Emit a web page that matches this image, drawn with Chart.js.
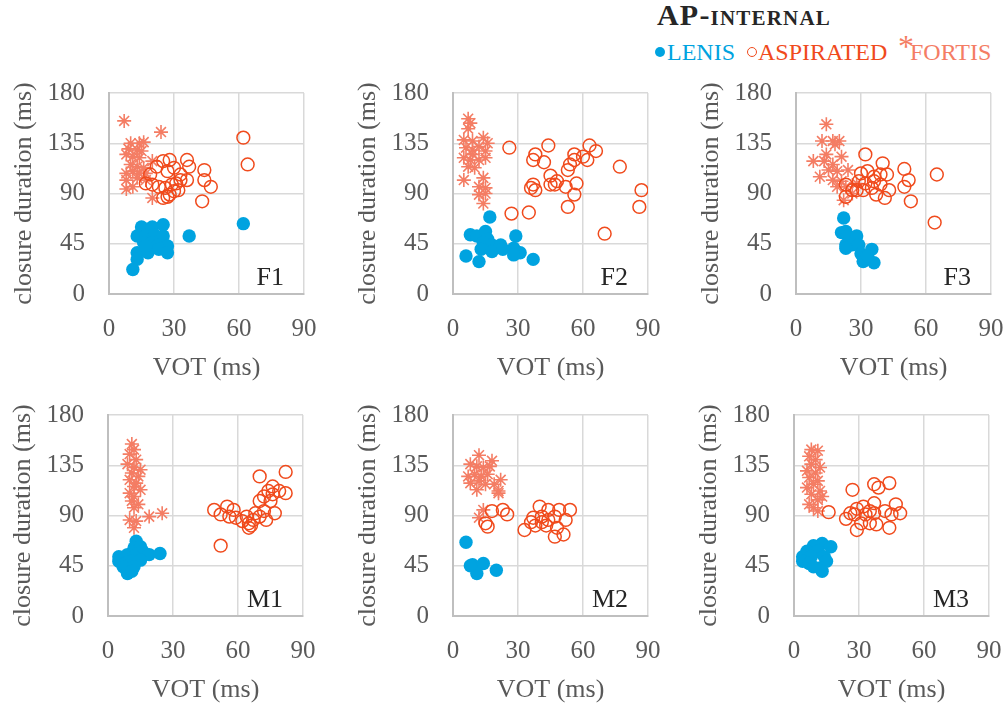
<!DOCTYPE html>
<html>
<head>
<meta charset="utf-8">
<title>AP-internal</title>
<script src="https://cdn.jsdelivr.net/npm/chart.js@4.4.1/dist/chart.umd.min.js"></script>
<style>
  html, body { margin: 0; padding: 0; background: #fff; }
  body { position: relative; width: 1006px; height: 704px; overflow: hidden;
         font-family: "Liberation Serif", "Times New Roman", serif; }
  canvas { position: absolute; }
  #title { position: absolute; left: 657px; top: -2px; font-size: 30px; line-height: 34px; letter-spacing: 1.2px;
           font-weight: bold; font-variant: small-caps; color: #262626; white-space: nowrap; }
  .lg { position: absolute; top: 37px; font-size: 24px; line-height: 30px; white-space: nowrap; }
  .dot { position: absolute; top: 47px; width: 10px; height: 10px; border-radius: 50%; box-sizing: border-box; }
</style>
</head>
<body>

<div id="title">AP-internal</div>
<span class="dot" style="left:655px;background:#00a3e0"></span>
<span class="lg" style="left:667px;color:#00a3e0">LENIS</span>
<span class="dot" style="left:747px;border:1.5px solid #f04a1c"></span>
<span class="lg" style="left:758px;color:#f04a1c">ASPIRATED</span>
<span class="lg" style="left:898px;top:31px;font-size:32px;color:#f47d64">*</span>
<span class="lg" style="left:910px;color:#f47d64">FORTIS</span>

<canvas id="cF1" width="310" height="304" style="left:9px;top:80px"></canvas>
<canvas id="cF2" width="310" height="304" style="left:353px;top:80px"></canvas>
<canvas id="cF3" width="310" height="304" style="left:696px;top:80px"></canvas>
<canvas id="cM1" width="310" height="304" style="left:8px;top:402px"></canvas>
<canvas id="cM2" width="310" height="304" style="left:353px;top:402px"></canvas>
<canvas id="cM3" width="310" height="304" style="left:694px;top:402px"></canvas>

<script>
// ── Data: [VOT ms, closure duration ms] ──
var xTicks = [0, 30, 60, 90];
var yTicks = [0, 45, 90, 135, 180];

var f1Lenis = [[62,63],[37,52],[15,60],[20,60],[25,62],[13,52],[17,52],[21,53],[25,52],[16,46],[20,46],[23,44],[27,43],[13,37],[18,37],[23,40],[27,37],[13,31],[11,22],[17,43]];
var f1Aspirated = [[62,140],[64,116],[36,120],[25,119],[28,120],[30,113],[37,114],[44,111],[44,102],[47,96],[43,83],[22,114],[27,110],[33,102],[36,102],[19,107],[20,98],[23,96],[26,95],[29,98],[31,99],[17,99],[27,87],[30,92],[32,93],[25,86],[28,89],[33,107]];
var f1Fortis = [[7,155],[24,145],[10,135],[14,135],[16,136],[9,130],[13,129],[15,128],[8,125],[11,123],[14,122],[20,119],[10,116],[13,114],[16,113],[8,108],[11,110],[14,108],[17,108],[8,102],[13,104],[17,102],[8,94],[20,86],[11,96]];

var f2Lenis = [[17,69],[8,53],[11,52],[15,56],[16,49],[29,52],[14,46],[18,44],[22,44],[13,40],[18,38],[23,40],[28,41],[31,37],[6,34],[12,29],[37,31],[28,35]];
var f2Aspirated = [[26,131],[44,133],[63,133],[66,128],[38,125],[37,120],[42,118],[56,125],[60,123],[62,120],[54,116],[53,111],[56,120],[77,114],[37,98],[38,93],[45,106],[45,98],[48,101],[47,98],[52,96],[57,99],[56,89],[53,78],[87,93],[86,78],[27,72],[35,73],[70,54],[36,95]];
var f2Fortis = [[7,157],[8,153],[7,148],[5,138],[9,137],[14,140],[16,135],[6,131],[9,129],[12,132],[15,128],[5,122],[8,120],[12,120],[15,122],[7,114],[10,113],[5,102],[14,104],[12,96],[15,95],[12,89],[15,90],[14,81],[9,125]];

var f3Lenis = [[22,68],[21,55],[23,56],[24,52],[28,52],[23,44],[26,44],[29,44],[23,41],[30,36],[35,40],[31,29],[36,28],[33,34]];
var f3Aspirated = [[32,125],[40,117],[50,112],[65,107],[52,102],[50,96],[53,83],[64,64],[30,108],[33,110],[36,105],[39,107],[42,107],[29,101],[32,99],[36,101],[39,98],[43,93],[23,98],[26,93],[31,93],[35,95],[37,89],[41,86],[23,87],[28,93]];
var f3Fortis = [[14,152],[12,137],[17,137],[20,137],[18,134],[14,125],[21,123],[8,119],[13,119],[17,116],[15,111],[11,105],[19,110],[24,111],[17,102],[21,101],[23,96],[19,96],[22,84],[26,90],[28,99]];

var m1Lenis = [[13,67],[12,61],[15,62],[16,58],[5,53],[9,55],[12,53],[19,55],[24,56],[5,49],[8,47],[11,49],[15,50],[7,44],[12,44],[9,38],[11,40]];
var m1Aspirated = [[82,129],[70,125],[76,116],[74,112],[79,112],[82,110],[72,107],[76,109],[70,103],[75,103],[49,95],[55,98],[58,95],[52,91],[56,89],[59,88],[64,89],[68,92],[72,94],[77,92],[73,86],[62,85],[65,83],[67,86],[65,79],[66,81],[70,89],[52,63]];
var m1Fortis = [[11,154],[12,149],[10,145],[13,140],[9,136],[12,133],[15,131],[11,128],[14,125],[10,122],[13,119],[12,116],[15,113],[10,110],[12,107],[11,103],[14,100],[12,97],[19,89],[25,92],[10,86],[13,85],[12,79]];

var m2Lenis = [[6,66],[9,46],[14,47],[11,38],[20,41],[8,45]];
var m2Aspirated = [[18,94],[23,95],[25,91],[15,83],[16,80],[33,77],[40,98],[44,95],[49,95],[54,95],[37,88],[41,89],[44,86],[47,89],[52,86],[38,81],[43,81],[48,79],[51,73],[47,71],[41,84],[36,84]];
var m2Fortis = [[12,144],[18,139],[22,122],[8,136],[11,134],[14,133],[17,134],[7,125],[10,127],[13,125],[16,127],[8,119],[12,121],[15,118],[19,118],[11,113],[21,110],[14,95],[12,88],[21,112]];

var m3Lenis = [[13,65],[17,62],[9,63],[6,58],[11,58],[4,53],[8,53],[14,53],[4,49],[7,47],[15,49],[12,43],[13,40],[9,44]];
var m3Aspirated = [[27,113],[16,93],[24,87],[37,118],[39,115],[44,119],[47,100],[49,92],[29,96],[32,98],[35,94],[28,91],[33,91],[37,92],[42,94],[45,91],[31,83],[35,83],[38,82],[29,77],[44,79],[37,101],[26,92]];
var m3Fortis = [[8,149],[11,148],[7,143],[10,140],[8,136],[12,133],[6,130],[10,128],[7,124],[11,121],[9,118],[6,115],[12,112],[8,109],[11,104],[7,100],[9,97],[11,94],[13,107]];

var Panels = (function() {
  'use strict';

  var SERIF = '"Liberation Serif", "Times New Roman", serif';
  var BLUE = '#00a3e0', RED = '#f04a1c', SALMON = '#f47d64';
  var TICK = '#595959', GRID = '#d9d9d9', BORDER = '#bfbfbf';

  Chart.defaults.font.family = SERIF;

  // ── Panel tag (F1, M2 …) in the lower-right corner of the plot ──
  var panelLabel = {
    id: 'panelLabel',
    afterDatasetsDraw: function(chart, args, opts) {
      var a = chart.chartArea, c = chart.ctx;
      c.save();
      c.font = '26px ' + SERIF;
      c.fillStyle = '#262626';
      c.textAlign = 'right';
      c.textBaseline = 'alphabetic';
      c.fillText(opts.text, a.right - 20, a.bottom - 9);
      c.restore();
    }
  };
  Chart.register(panelLabel);

  function toPts(arr) {
    return arr.map(function(p) { return { x: p[0], y: p[1] }; });
  }

  function axis(min, max, step, title, fitFn, pad) {
    return {
      type: 'linear', min: min, max: max,
      afterBuildTicks: function(s) {
        var vals = (s.axis === 'x') ? xTicks : yTicks;
        s.ticks = vals.map(function(v) { return { value: v }; });
      },
      ticks: { stepSize: step, padding: pad, color: TICK, font: { size: 25 } },
      grid: { color: GRID, lineWidth: 1.5, drawTicks: false },
      border: { color: BORDER, width: 2 },
      title: { display: true, text: title, color: TICK, font: { size: 26 }, padding: 0 },
      afterFit: fitFn
    };
  }

  function make(id, label, lenis, aspirated, fortis) {
    var ctx = document.getElementById(id).getContext('2d');
    return new Chart(ctx, {
      type: 'scatter',
      data: {
        datasets: [
          { label: 'LENIS', data: toPts(lenis), pointStyle: 'circle', pointRadius: 6.7,
            backgroundColor: BLUE, borderColor: BLUE, borderWidth: 0 },
          { label: 'ASPIRATED', data: toPts(aspirated), pointStyle: 'circle', pointRadius: 6.4,
            backgroundColor: 'rgba(0,0,0,0)', borderColor: RED, borderWidth: 1.5 },
          { label: 'FORTIS', data: toPts(fortis), pointStyle: 'star', pointRadius: 7,
            backgroundColor: SALMON, borderColor: SALMON, borderWidth: 1.6 }
        ]
      },
      options: {
        responsive: false,
        animation: false,
        events: [],
        layout: { padding: { top: 13, right: 15, left: 0, bottom: 0 } },
        plugins: {
          legend: { display: false },
          tooltip: { enabled: false },
          panelLabel: { text: label }
        },
        scales: {
          x: axis(0, 90, 30, 'VOT (ms)', function(s) {
            s.height = 90; s.paddingLeft = 0; s.paddingRight = 0;
          }, 20),
          y: axis(0, 180, 45, 'closure duration (ms)', function(s) {
            s.width = 100; s.paddingTop = 0; s.paddingBottom = 0;
          }, 24)
        }
      }
    });
  }

  return { make: make };
})();

Panels.make('cF1', 'F1', f1Lenis, f1Aspirated, f1Fortis);
Panels.make('cF2', 'F2', f2Lenis, f2Aspirated, f2Fortis);
Panels.make('cF3', 'F3', f3Lenis, f3Aspirated, f3Fortis);
Panels.make('cM1', 'M1', m1Lenis, m1Aspirated, m1Fortis);
Panels.make('cM2', 'M2', m2Lenis, m2Aspirated, m2Fortis);
Panels.make('cM3', 'M3', m3Lenis, m3Aspirated, m3Fortis);
</script>
</body>
</html>
